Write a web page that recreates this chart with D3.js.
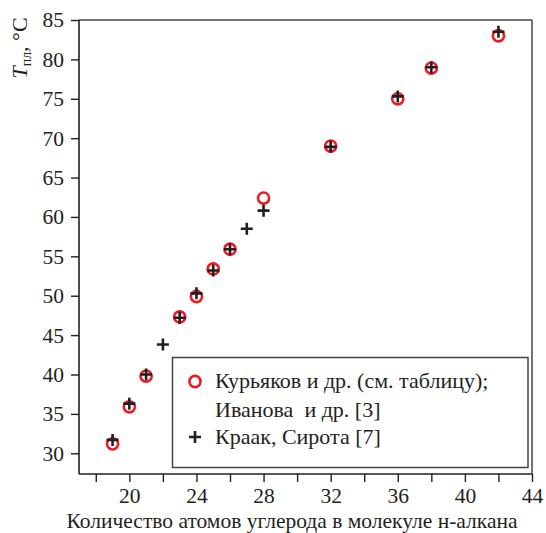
<!DOCTYPE html>
<html><head><meta charset="utf-8">
<script src="https://cdn.jsdelivr.net/npm/d3@7"></script>
</head>
<body style="margin:0;background:#fff"><svg id="c" width="546" height="533"></svg>
<script>
const kurX = [19,20,21,23,24,25,26,28,32,36,38,42];
const kurY = [31.2,35.9,39.8,47.3,49.9,53.4,55.9,62.4,69.0,75.0,78.9,83.0];
const krX = [19,20,21,22,23,24,25,26,27,28,32,36,38,42];
const krY = [31.7,36.3,40.0,43.8,47.2,50.3,53.2,55.9,58.5,60.8,68.9,75.3,79.0,83.5];
const xTicks = [18,20,22,24,26,28,30,32,34,36,38,40,42,44];
const xLabeled = [20,24,28,32,36,40,44];
const yTicks = [30,35,40,45,50,55,60,65,70,75,80,85];
const legendLabels = ["Курьяков и др. (см. таблицу);","Иванова  и др. [3]","Краак, Сирота [7]"];
const xTitle = "Количество атомов углерода в молекуле н-алкана";

const FAM = "'Liberation Serif', Tinos, 'Times New Roman', serif";
const BASE = 18;
const svg = d3.select("#c");
const L=79, R=532, T=20, B=474;
const x = d3.scaleLinear().domain([17,44]).range([L,R]);
const y = d3.scaleLinear().domain([27.37,85]).range([B,T]);
const red="#ed1c24", dark="#231f20";

svg.append("line").attr("x1",L).attr("x2",R).attr("y1",T).attr("y2",T).attr("stroke","#444").attr("stroke-width",1.5);
svg.append("line").attr("x1",R).attr("x2",R).attr("y1",T).attr("y2",B).attr("stroke","#444").attr("stroke-width",1.5);

const fs=21.5, kt=fs/BASE;
const ya = svg.append("g").attr("transform",`translate(${L},0)`)
  .call(d3.axisLeft(y).tickValues(yTicks).tickSize(8).tickPadding(7).tickSizeOuter(0));
const xa = svg.append("g").attr("transform",`translate(0,${B})`)
  .call(d3.axisBottom(x).tickValues(xTicks).tickSize(8).tickPadding(6).tickSizeOuter(0)
    .tickFormat(d=>xLabeled.includes(d)?d:""));
[ya,xa].forEach(g=>{
  g.attr("font-family",null);
  g.select(".domain").attr("stroke",dark).attr("stroke-width",1.6);
  g.selectAll(".tick line").attr("stroke",dark).attr("stroke-width",1.4);
  g.selectAll(".tick text").attr("font-size",BASE).attr("fill",dark).attr("transform",`scale(${kt})`);
});
ya.selectAll(".tick text").attr("x",-15/kt);
xa.selectAll(".tick text").attr("y",14/kt);
ya.select(".domain").attr("d",`M0,${B}V${T}`);
xa.select(".domain").attr("d",`M${L},0H${R}`);

svg.append("g").selectAll("circle").data(kurX).join("circle")
  .attr("cx",(d)=>x(d)).attr("cy",(d,i)=>y(kurY[i])).attr("r",5.6)
  .attr("fill","none").attr("stroke",red).attr("stroke-width",2.6);
svg.append("g").selectAll("path").data(krX).join("path")
  .attr("d",(d,i)=>{const px=x(d),py=y(krY[i]);return `M${px-6},${py}H${px+6}M${px},${py-6}V${py+6}`;})
  .attr("stroke",dark).attr("stroke-width",2.6).attr("fill","none");

const lg = svg.append("g");
lg.append("rect").attr("x",172.5).attr("y",357.5).attr("width",355.5).attr("height",110)
  .attr("fill","#fff").attr("stroke","#444").attr("stroke-width",1.5);
lg.append("circle").attr("cx",195).attr("cy",381.5).attr("r",5.6).attr("fill","none").attr("stroke",red).attr("stroke-width",2.6);
lg.append("path").attr("d","M189,437H201M195,431V443").attr("stroke",dark).attr("stroke-width",2.6);
const lys=[388,416.5,443.5];
const kl=22/BASE;
legendLabels.forEach((t,i)=>lg.append("text").attr("transform",`translate(215,${lys[i]}) scale(${kl})`)
  .attr("font-size",BASE).style("white-space","pre").text(t));

svg.append("text").attr("transform",`translate(292,528) scale(${kt})`).attr("text-anchor","middle").attr("font-size",BASE).text(xTitle);
const ky=22/BASE;
const yt = svg.append("text").attr("transform",`translate(27,48) rotate(-90) scale(${ky})`).attr("text-anchor","middle").attr("font-size",BASE);
yt.append("tspan").attr("font-style","italic").text("T");
yt.append("tspan").attr("font-size",14/ky).attr("dy",4/ky).text("пл");
yt.append("tspan").attr("dy",-4/ky).text(", °C");

svg.selectAll("text").style("font-family",FAM).attr("fill",dark);
</script></body></html>
